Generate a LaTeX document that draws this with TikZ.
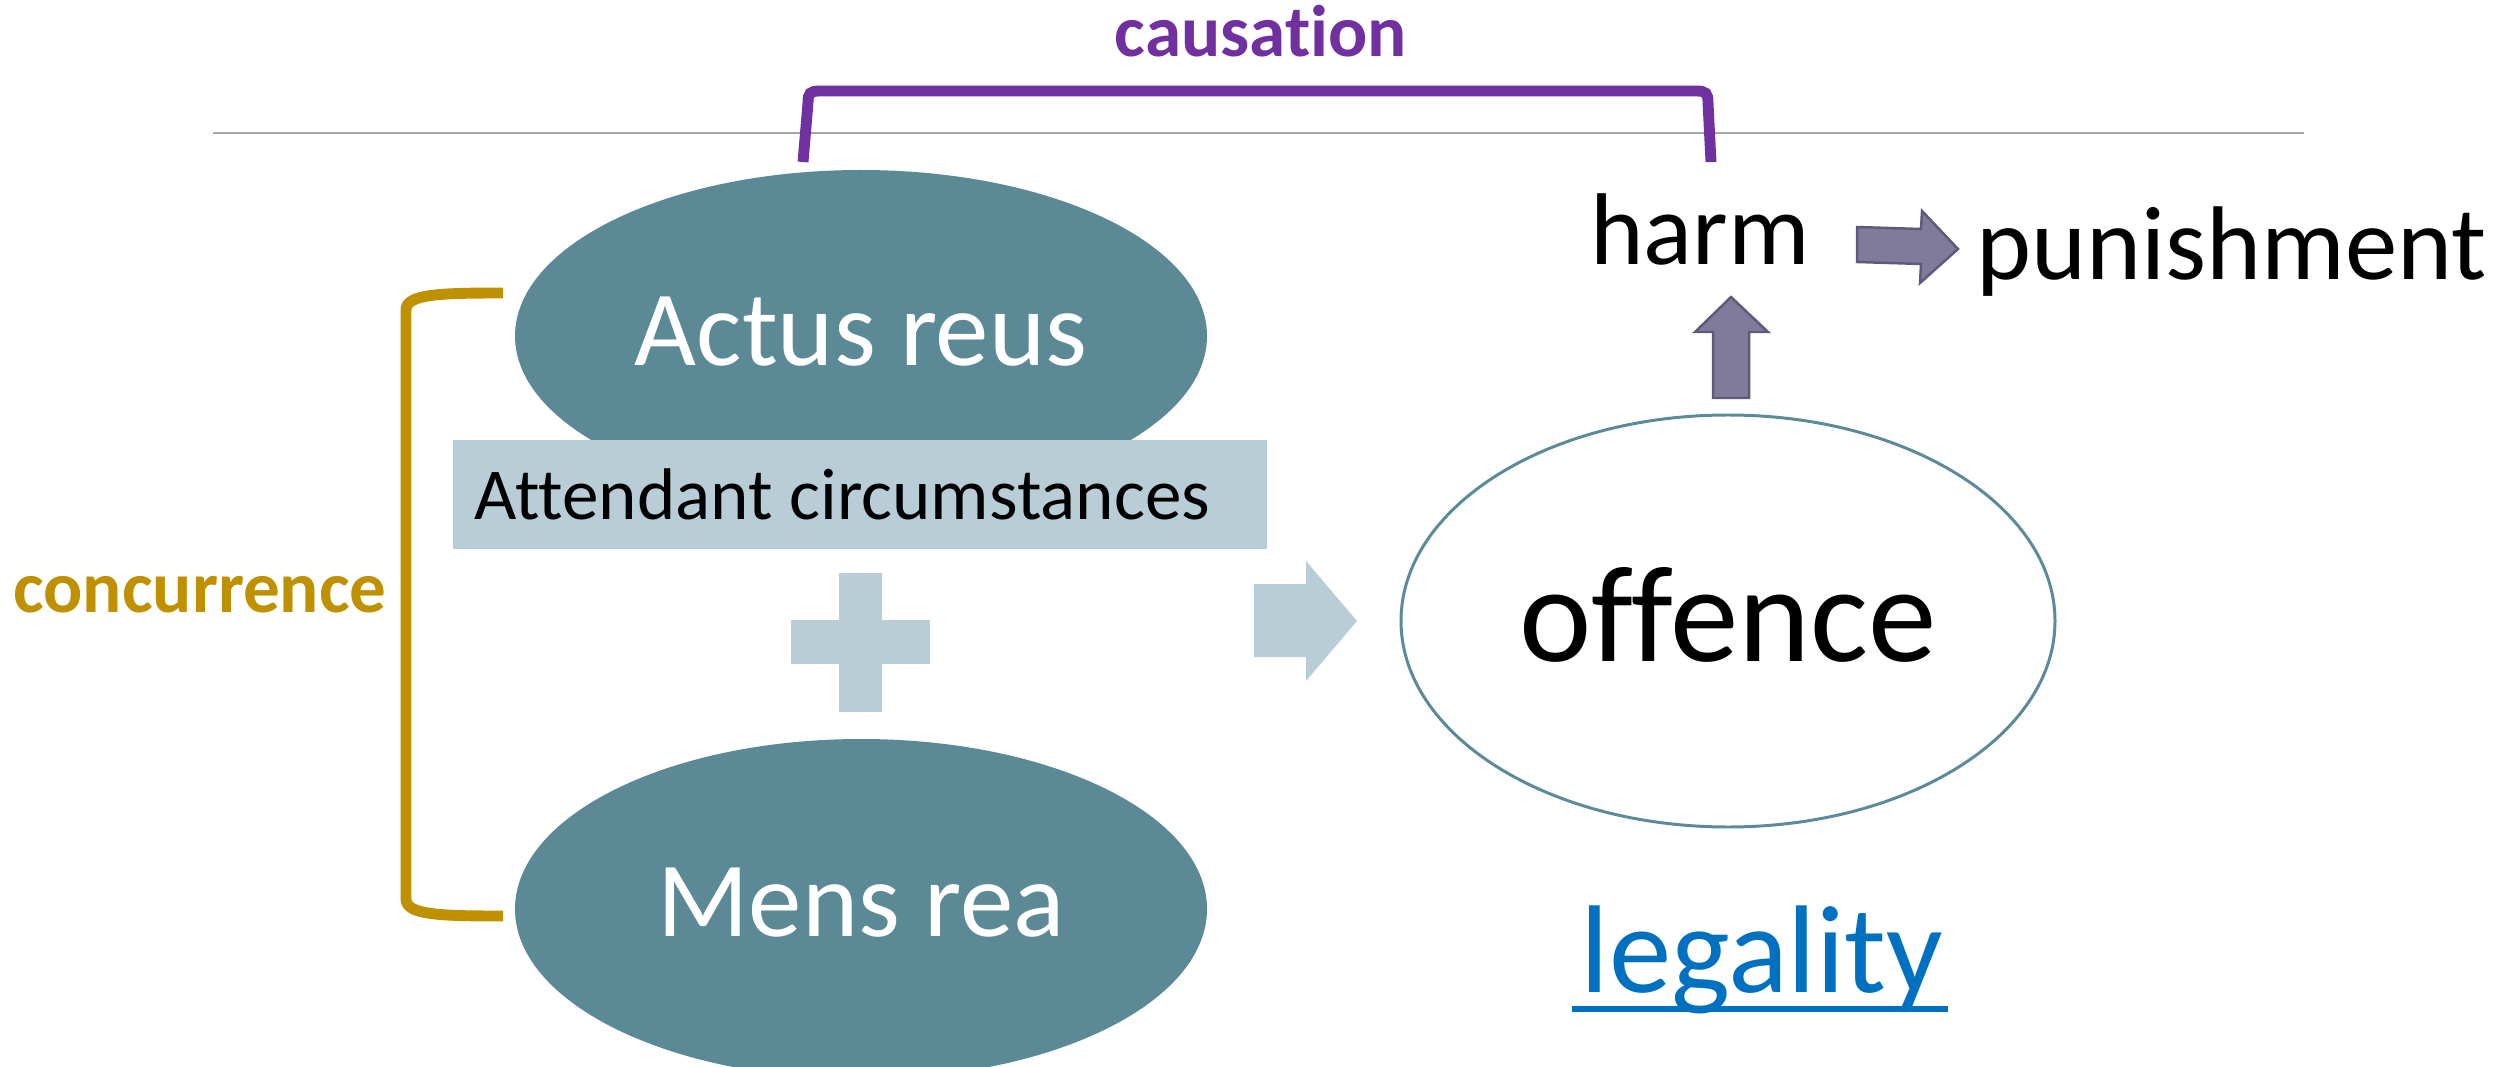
\documentclass[tikz,border=0pt]{standalone}
\usepackage{fontspec}
\setmainfont{Carlito}[Ligatures={NoCommon}]
\usetikzlibrary{calc}

\definecolor{reusteal}{HTML}{5B8A96}
\definecolor{circbox}{HTML}{B8CDD5}
\definecolor{causpurple}{HTML}{7030A0}
\definecolor{concgold}{HTML}{BF9000}
\definecolor{harmarrow}{HTML}{807B9B}
\definecolor{harmedge}{HTML}{5E5A78}
\definecolor{legalblue}{HTML}{0070C0}
\definecolor{rulegray}{HTML}{A6A6A6}
\definecolor{offedge}{HTML}{5B8A9B}

\tikzset{
  txt/.style={inner sep=0pt,anchor=base},
  blockarrow/.style={fill=harmarrow,draw=harmedge,line width=0.7pt,line join=miter}
}

\begin{document}
\begin{tikzpicture}[x=0.01cm,y=-0.01cm]
    \useasboundingbox(0,0)rectangle(2509,1067);
    % top rule
    \coordinate(R1)at(213,133);
    \coordinate(R2)at(2304,133);
    \draw[rulegray,line width=0.6pt](R1)--(R2);
    % causation bracket
    \coordinate(CA)at(803,162);
    \coordinate(CB)at(808,91);
    \coordinate(CC)at(1708,91);
    \coordinate(CD)at(1711,162);
    \draw[causpurple,line width=3.1pt](CA)--($(CB)+(0,12)$)
        .. controls ($(CB)+(0,2)$) and ($(CB)+(2,0)$) .. ($(CB)+(12,0)$)--($(CC)+(-12,0)$)
        .. controls ($(CC)+(-2,0)$) and ($(CC)+(0,2)$) .. ($(CC)+(0,12)$)--(CD);
    \node[txt,font=\fontsize{20.8}{25}\selectfont\bfseries,text=causpurple](causation)at(1261,57){causation};
    % concurrence bracket
    \coordinate(KA)at(503,293);
    \coordinate(KB)at(406,298);
    \coordinate(KC)at(406,911);
    \coordinate(KD)at(503,916);
    \draw[concgold,line width=3.1pt](KA)
        .. controls (440,293) and (406,294) .. ($(KB)+(0,12)$)--($(KC)+(0,-12)$)
        .. controls (406,915) and (440,916) .. (KD);
    \node[txt,font=\fontsize{20.8}{25}\selectfont\bfseries,text=concgold](concurrence)at(200,612){concurrence};
    % elements
    \fill[reusteal](861,336)ellipse[x radius=346,y radius=166];
    \fill[reusteal](861,909)ellipse[x radius=346,y radius=170];
    \fill[circbox](453,440)rectangle(1267,549);
    \node[txt,anchor=base west,font=\fontsize{20.8}{25}\selectfont](attendant)at(474,519){Attendant circumstances};
    \node[txt,font=\fontsize{30.4}{36}\selectfont,text=white](actus)at(861,366){Actus reus};
    \node[txt,font=\fontsize{30.4}{36}\selectfont,text=white](mens)at(861,936){Mens rea};
    % plus
    \fill[circbox](839,573)rectangle(882,712);
    \fill[circbox](791,620)rectangle(930,664);
    % arrow to offence
    \fill[circbox](1254,584)--(1306,584)--(1306,561)--(1357,621)--(1306,681)--(1306,657)--(1254,657)--cycle;
    % offence
    \draw[offedge,line width=0.85pt](1728,621)ellipse[x radius=327,y radius=206];
    \node[txt,font=\fontsize{39}{46}\selectfont](offence)at(1728,661){offence};
    % harm and punishment
    \node[txt,font=\fontsize{29}{34}\selectfont](harm)at(1700,265){harm};
    \node[txt,anchor=base west,font=\fontsize{29.8}{35}\selectfont](punishment)at(1976,280){punishment};
    \draw[blockarrow](1713,398)--(1713,332)--(1695,332)--(1731,297)--(1768,332)--(1749,332)--(1749,398)--cycle;
    \draw[blockarrow](1857,227)--(1921,229)--(1922,211)--(1958,249)--(1920,283)--(1921,264)--(1857,262)--cycle;
    % legality
    \node[txt,font=\fontsize{35.5}{42}\selectfont,text=legalblue](legality)at(1762,992){legality};
    \draw[legalblue,line width=1.8pt]($(legality.base west)+(-8,17)$)--($(legality.base east)+(4,17)$);
\end{tikzpicture}
\end{document}
